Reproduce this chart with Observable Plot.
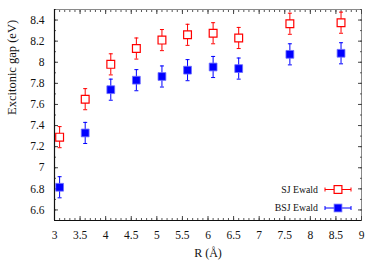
<!DOCTYPE html>
<html>
<head>
<meta charset="utf-8">
<script src="https://cdn.jsdelivr.net/npm/d3@7"></script>
<script src="https://cdn.jsdelivr.net/npm/@observablehq/plot@0.6"></script>
<style>
  html, body { margin: 0; padding: 0; background: #fff; }
  #chart { width: 374px; height: 262px; }
</style>
</head>
<body>
<div id="chart"></div>
<script>
// ---- data ----
const R = [3.1, 3.6, 4.1, 4.6, 5.1, 5.6, 6.1, 6.6, 7.6, 8.6];
const sjEwald = [7.29, 7.65, 7.98, 8.13, 8.21, 8.26, 8.275, 8.23, 8.365, 8.375];
const sjErr = [0.1, 0.1, 0.1, 0.1, 0.1, 0.1, 0.1, 0.1, 0.1, 0.1];
const bsjEwald = [6.815, 7.33, 7.74, 7.83, 7.865, 7.925, 7.955, 7.94, 8.075, 8.085];
const bsjErr = [0.1, 0.1, 0.1, 0.1, 0.1, 0.1, 0.1, 0.1, 0.1, 0.1];
const seriesNames = ["SJ Ewald", "BSJ Ewald"];
const xTicks = [3, 3.5, 4, 4.5, 5, 5.5, 6, 6.5, 7, 7.5, 8, 8.5, 9];
const yTicks = [6.6, 6.8, 7, 7.2, 7.4, 7.6, 7.8, 8, 8.2, 8.4];
const xDomain = [3, 9];
const yDomain = [6.5, 8.5];
const xLabel = "R (Å)";
const yLabel = "Excitonic gap (eV)";

// ---- styling ----
const series = [
  {name: seriesNames[0], values: sjEwald, err: sjErr, color: "#ff0000", filled: false},
  {name: seriesNames[1], values: bsjEwald, err: bsjErr, color: "#0000ff", filled: true}
];
const FONT = "Liberation Serif, Times New Roman, serif";
const xMinor = d3.range(30, 91, 1).map(d => d / 10);
const yMinor = d3.range(65, 86, 1).map(d => d / 10);
const cap = {draw(ctx) { ctx.moveTo(-2, 0); ctx.lineTo(2, 0); }};

const marks = [
  Plot.frame({stroke: "#8a8a8a", strokeWidth: 1}),
  // minor ticks (inward, all four sides)
  Plot.axisX(xMinor, {anchor: "bottom", tickSize: -2, tickFormat: () => "", label: null, stroke: "#555"}),
  Plot.axisX(xMinor, {anchor: "top", tickSize: -2, tickFormat: () => "", label: null, stroke: "#555"}),
  Plot.axisY(yMinor, {anchor: "left", tickSize: -2, tickFormat: () => "", label: null, stroke: "#555"}),
  Plot.axisY(yMinor, {anchor: "right", tickSize: -2, tickFormat: () => "", label: null, stroke: "#555"}),
  // major ticks
  Plot.axisX(xTicks, {anchor: "bottom", tickSize: -4, tickPadding: 14.5, tickFormat: d => String(d), label: null, fontSize: 11.5, stroke: "#444", fill: "#111"}),
  Plot.axisX(xTicks, {anchor: "top", tickSize: -4, tickFormat: () => "", label: null, stroke: "#444"}),
  Plot.axisY(yTicks, {anchor: "left", tickSize: -4, tickPadding: 14, tickFormat: d => String(d), label: null, fontSize: 11.5, stroke: "#444", fill: "#111"}),
  Plot.axisY(yTicks, {anchor: "right", tickSize: -4, tickFormat: () => "", label: null, stroke: "#444"}),
  // left and bottom axis lines
  Plot.ruleX([xDomain[0]], {stroke: "#111", strokeWidth: 1.2}),
  Plot.ruleY([yDomain[0]], {stroke: "#111", strokeWidth: 1.2}),
  // axis titles
  Plot.text([xLabel], {text: d => d, frameAnchor: "bottom", dy: 36, fontSize: 12, fill: "#111"}),
  Plot.text([yLabel], {text: d => d, frameAnchor: "left", rotate: -90, dx: -43, fontSize: 12.5, fill: "#111"})
];

for (const s of series) {
  const rows = R.map((r, i) => ({R: r, y: s.values[i], e: s.err[i]}));
  marks.push(
    Plot.ruleX(rows, {x: "R", y1: d => d.y - d.e, y2: d => d.y + d.e, stroke: s.color, strokeWidth: 1}),
    Plot.dot(rows, {x: "R", y: d => d.y + d.e, symbol: cap, r: 2, stroke: s.color, strokeWidth: 1}),
    Plot.dot(rows, {x: "R", y: d => d.y - d.e, symbol: cap, r: 2, stroke: s.color, strokeWidth: 1}),
    s.filled
      ? Plot.dot(rows, {x: "R", y: "y", symbol: "square", r: 4.4, fill: s.color, stroke: "#6f6fff", strokeWidth: 0.8})
      : Plot.dot(rows, {x: "R", y: "y", symbol: "square", r: 4.4, fill: "white", stroke: s.color, strokeWidth: 1.2})
  );
}

const plot = Plot.plot({
  width: 374,
  height: 262,
  marginLeft: 54,
  marginRight: 13,
  marginTop: 9,
  marginBottom: 42,
  x: {domain: xDomain, axis: null},
  y: {domain: yDomain, axis: null},
  style: {fontFamily: FONT, fontSize: "11.5px", background: "white", color: "#111"},
  marks
});

// legend (inside plot, lower right)
const svg = d3.select(plot);
const lg = svg.append("g").attr("font-family", FONT).attr("font-size", 9.8);
series.forEach((s, i) => {
  const y = 189.5 + i * 18.5;
  lg.append("text").attr("x", 318).attr("y", y).attr("dy", "0.32em")
    .attr("text-anchor", "end").attr("fill", "#111").text(s.name);
  lg.append("line").attr("x1", 325).attr("x2", 351).attr("y1", y).attr("y2", y)
    .attr("stroke", s.color).attr("stroke-width", 1);
  for (const x of [325, 351]) {
    lg.append("line").attr("x1", x).attr("x2", x).attr("y1", y - 2).attr("y2", y + 2)
      .attr("stroke", s.color).attr("stroke-width", 1);
  }
  const side = 7.8;
  lg.append("rect").attr("x", 338 - side / 2).attr("y", y - side / 2)
    .attr("width", side).attr("height", side)
    .attr("fill", s.filled ? s.color : "white")
    .attr("stroke", s.filled ? "#6f6fff" : s.color)
    .attr("stroke-width", s.filled ? 0.8 : 1.2);
});

document.getElementById("chart").appendChild(plot);
</script>
</body>
</html>
